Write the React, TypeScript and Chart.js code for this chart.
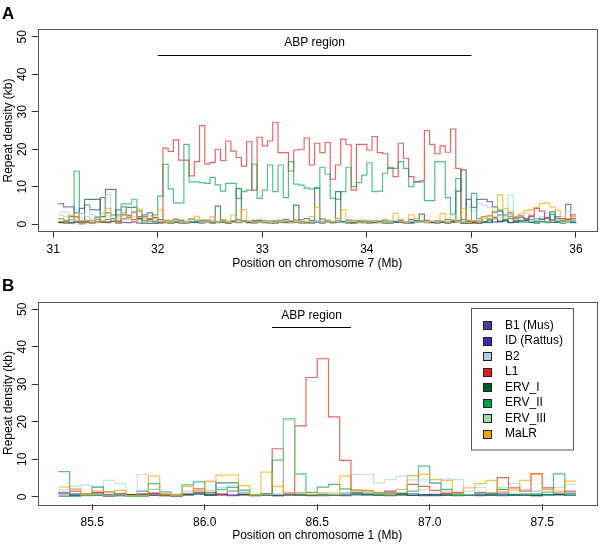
import React, { useEffect, useRef } from 'react';
import { Chart, registerables } from 'chart.js';

Chart.register(...registerables);
Chart.defaults.font.family = '"Liberation Sans", Arial, Helvetica, sans-serif';
Chart.defaults.color = '#000';

const SERIES_NAMES = ['B1 (Mus)', 'ID (Rattus)', 'B2', 'L1', 'ERV_I', 'ERV_II', 'ERV_III', 'MaLR'];
const SERIES_COLORS = ['#4b3b9c', '#3a2aa6', '#b4cce8', '#e41a1c', '#005a24', '#00a050', '#9adcb0', '#f5a500'];
const LINE_ALPHA = 0.68;

const Y_TICKS = [0, 10, 20, 30, 40, 50];
const Y_MIN = -2;
const Y_MAX = 52;
const Y_TITLE = 'Repeat density (kb)';
const ABP_LABEL = 'ABP region';
const ABP_LINE_Y = 45.2;
const ABP_TEXT_Y = 48.3;

// ---------- Panel A: chromosome 7 ----------
const A_START = 31.05;
const A_STEP = 0.05;
const A_COUNT = 100;
const A_X_TICKS = [31, 32, 33, 34, 35, 36];
const A_X_TITLE = 'Position on chromosome 7 (Mb)';
const A_ABP = [32.0, 35.0];

const A_B1 = [
  5.5, 4.6, 4.6, 3.0, 4.2, 5.1, 3.9, 3.8, 7.1, 3.0,
  2.5, 3.8, 4.6, 2.3, 3.2, 2.0, 2.5, 3.0, 1.8, 0.5,
  0.6, 0.8, 1.2, 1.0, 0.7, 1.4, 0.9, 0.6, 1.1, 0.8,
  0.7, 1.0, 0.6, 0.9, 1.2, 0.8, 0.6, 1.0, 0.7, 0.9,
  0.8, 0.6, 1.0, 1.3, 0.7, 0.9, 1.2, 1.5, 1.0, 0.8,
  1.4, 1.0, 0.7, 0.9, 0.6, 1.1, 0.8, 0.7, 1.0, 0.6,
  0.9, 0.7, 1.1, 0.8, 0.6, 1.0, 0.7, 1.2, 0.9, 0.8,
  1.0, 0.7, 0.9, 0.6, 1.2, 0.8, 1.0, 0.7, 6.6, 4.5,
  6.6, 6.6, 6.0, 4.6, 3.5, 2.5, 3.0, 1.8, 2.2, 1.5,
  2.0, 1.5, 1.2, 1.8, 1.0, 2.0, 1.5, 5.3, 1.5, 1.5,
];
const A_ID = [
  0.4, 0.6, 0.3, 0.5, 0.8, 0.4, 0.3, 0.6, 0.5, 0.4,
  0.7, 0.3, 0.5, 0.4, 0.6, 0.3, 0.5, 0.8, 0.4, 0.3,
  0.5, 0.4, 0.6, 0.3, 0.5, 0.7, 0.4, 0.3, 0.6, 0.5,
  0.4, 0.6, 0.3, 0.5, 0.4, 0.7, 0.5, 0.3, 0.6, 0.4,
  0.5, 0.3, 0.6, 0.4, 0.8, 0.5, 0.3, 0.4, 0.6, 0.5,
  0.3, 0.6, 0.4, 0.5, 0.7, 0.3, 0.5, 0.4, 0.6, 0.3,
  0.5, 0.4, 0.7, 0.3, 0.5, 0.6, 0.4, 0.3, 0.5, 0.6,
  0.4, 0.5, 0.3, 0.6, 0.4, 0.5, 0.7, 0.3, 0.8, 0.6,
  0.9, 0.7, 1.2, 0.6, 0.8, 1.0, 0.5, 0.7, 0.6, 0.9,
  0.5, 0.8, 0.6, 0.7, 0.5, 0.6, 0.9, 1.2, 0.6, 0.6,
];
const A_B2 = [
  3.3, 3.3, 2.0, 1.5, 2.8, 5.0, 2.5, 2.0, 3.0, 2.2,
  2.5, 2.0, 3.0, 1.5, 2.0, 1.2, 1.8, 1.5, 1.0, 0.5,
  0.6, 0.9, 0.5, 1.1, 0.7, 0.4, 0.8, 1.0, 0.6, 0.5,
  0.8, 0.6, 1.0, 0.5, 0.7, 0.9, 0.4, 0.6, 0.8, 0.5,
  0.7, 0.5, 0.9, 0.6, 0.4, 0.8, 1.1, 0.6, 0.5, 0.7,
  0.6, 0.9, 0.5, 0.7, 0.4, 0.8, 0.6, 1.0, 0.5, 0.7,
  0.8, 0.5, 0.6, 0.9, 0.7, 0.4, 0.6, 0.8, 0.5, 0.9,
  0.6, 0.7, 0.5, 0.8, 0.6, 1.0, 0.5, 0.7, 4.5, 3.5,
  5.5, 5.0, 4.5, 3.0, 2.5, 2.0, 3.5, 2.5, 2.0, 3.0,
  2.5, 1.5, 2.0, 3.0, 2.5, 1.8, 2.0, 3.5, 2.0, 2.0,
];
const A_L1 = [
  0.6, 0.5, 2.1, 2.1, 0.1, 0.8, 0.5, 1.2, 0.8, 0.6,
  1.5, 0.6, 1.4, 1.8, 1.2, 1.6, 1.0, 1.3, 0.7, 0.5,
  20.3, 19.4, 22.5, 17.1, 17.1, 12.9, 16.7, 26.3, 16.1, 16.5,
  20.0, 17.0, 22.2, 19.5, 17.8, 15.5, 22.0, 9.1, 23.2, 20.9,
  22.2, 27.2, 19.1, 19.1, 14.2, 19.8, 20.0, 23.0, 15.8, 21.6,
  19.1, 21.8, 12.0, 15.8, 22.7, 21.2, 9.1, 21.3, 21.3, 19.8,
  23.4, 19.1, 18.8, 14.9, 12.7, 21.6, 17.6, 12.7, 11.3, 11.6,
  25.0, 21.3, 18.8, 20.9, 19.2, 25.4, 14.9, 1.2, 0.8, 0.5,
  0.6, 2.0, 2.2, 1.8, 2.5, 1.2, 1.5, 1.0, 1.8, 1.2,
  2.2, 4.2, 3.5, 1.5, 1.2, 1.5, 1.0, 1.3, 2.5, 2.5,
];
const A_ERV1 = [
  0.5, 0.3, 0.5, 0.8, 0.5, 6.6, 6.6, 6.6, 2.0, 9.3,
  9.3, 0.8, 2.5, 4.5, 4.5, 1.5, 0.3, 0.2, 0.2, 1.2,
  1.0, 0.3, 0.5, 0.8, 0.3, 0.5, 0.6, 1.0, 0.6, 0.3,
  4.8, 0.5, 0.3, 0.6, 9.5, 0.8, 0.4, 0.6, 1.0, 0.5,
  0.3, 0.8, 0.5, 0.6, 0.4, 5.1, 0.6, 0.4, 0.3, 9.7,
  0.5, 0.8, 0.4, 8.7, 0.6, 0.5, 0.3, 0.8, 0.4, 0.6,
  0.5, 0.8, 0.3, 0.4, 0.6, 0.5, 0.3, 0.5, 0.8, 2.7,
  0.5, 0.4, 0.6, 0.5, 0.3, 0.8, 8.8, 14.5, 0.2, 0.3,
  0.2, 0.5, 0.4, 1.5, 0.6, 0.8, 0.4, 0.5, 1.0, 1.0,
  0.5, 0.3, 0.6, 0.4, 3.3, 0.5, 0.3, 0.6, 0.4, 0.5,
];
const A_ERV2 = [
  1.5, 1.0, 1.2, 14.2, 0.5, 0.8, 1.0, 1.8, 0.6, 1.2,
  0.8, 2.5, 5.4, 5.4, 6.6, 3.5, 2.0, 1.5, 2.5, 7.5,
  16.0, 9.4, 5.7, 5.7, 21.3, 11.3, 11.3, 11.1, 10.9, 12.5,
  10.5, 8.8, 10.9, 10.9, 6.9, 8.7, 9.1, 16.0, 6.9, 9.1,
  15.8, 8.7, 15.8, 7.1, 16.7, 10.7, 10.4, 9.6, 9.4, 9.7,
  15.2, 13.4, 6.9, 6.6, 8.7, 15.2, 10.0, 11.1, 13.1, 16.4,
  8.7, 8.8, 13.6, 15.2, 14.9, 16.7, 14.9, 10.0, 11.3, 11.3,
  6.3, 6.3, 16.7, 16.7, 7.1, 2.7, 12.2, 0.2, 0.3, 8.2,
  1.5, 0.5, 0.8, 3.2, 3.8, 1.0, 2.0, 1.5, 0.8, 0.5,
  1.2, 0.6, 1.5, 0.5, 2.6, 0.8, 0.6, 0.8, 1.0, 1.0,
];
const A_ERV3 = [
  2.4, 2.0, 1.2, 1.0, 3.0, 2.0, 0.8, 1.5, 2.5, 7.8,
  1.0, 1.5, 5.5, 1.2, 6.6, 1.0, 0.5, 0.8, 0.4, 1.0,
  0.8, 0.5, 1.0, 0.6, 0.4, 0.8, 1.2, 0.5, 0.6, 0.8,
  0.5, 0.8, 0.6, 0.4, 1.0, 0.6, 0.8, 0.5, 1.2, 0.6,
  0.4, 0.8, 0.6, 1.0, 0.5, 0.7, 0.4, 0.8, 0.6, 1.0,
  0.5, 0.8, 0.6, 1.5, 0.4, 0.6, 0.8, 0.5, 1.0, 0.6,
  0.8, 0.5, 0.6, 0.4, 1.0, 0.7, 0.5, 0.8, 0.6, 0.5,
  0.4, 0.8, 0.6, 1.0, 0.5, 2.5, 0.8, 0.6, 1.2, 1.0,
  0.8, 1.5, 2.0, 1.5, 2.5, 1.5, 7.8, 2.0, 1.2, 0.6,
  0.8, 1.0, 0.5, 0.6, 0.8, 1.2, 0.5, 0.8, 1.0, 1.0,
];
const A_MALR = [
  1.5, 0.5, 2.4, 1.8, 0.3, 1.0, 0.4, 0.5, 0.8, 4.2,
  1.5, 0.5, 3.0, 2.5, 0.6, 4.0, 1.6, 2.2, 1.5, 3.8,
  0.3, 1.0, 1.5, 0.5, 0.6, 1.5, 2.1, 1.0, 0.5, 2.0,
  0.6, 1.2, 0.3, 2.4, 0.5, 3.9, 0.8, 0.3, 0.5, 1.0,
  0.4, 1.0, 0.6, 0.8, 0.5, 1.2, 0.4, 0.3, 2.0, 4.5,
  0.8, 1.0, 0.6, 1.5, 3.9, 0.6, 1.0, 0.5, 0.4, 1.0,
  0.3, 0.5, 1.0, 0.8, 2.9, 1.2, 0.3, 2.5, 1.5, 1.0,
  0.5, 0.8, 0.6, 2.9, 0.6, 1.2, 0.5, 4.2, 0.4, 1.0,
  0.8, 2.0, 1.5, 3.5, 7.8, 4.2, 2.5, 2.0, 2.8, 3.7,
  3.9, 4.5, 5.5, 5.7, 4.6, 3.7, 1.0, 1.5, 2.0, 2.0,
];

// ---------- Panel B: chromosome 1 ----------
const B_START = 85.35;
const B_STEP = 0.05;
const B_COUNT = 47;
const B_X_TICKS = [85.5, 86.0, 86.5, 87.0, 87.5];
const B_X_TITLE = 'Position on chromosome 1 (Mb)';
const B_ABP = [86.3, 86.65];

const B_B1 = [
  1.2, 0.8, 0.6, 1.0, 0.5, 0.8, 0.5, 1.5, 1.0, 0.6,
  0.4, 0.8, 1.2, 0.6, 0.8, 0.5, 1.0, 0.6, 0.8, 0.5,
  0.6, 0.8, 0.5, 0.4, 0.6, 1.0, 1.2, 0.8, 1.0, 1.5,
  1.0, 0.8, 0.6, 0.5, 0.8, 1.2, 0.6, 0.5, 0.8, 1.0,
  0.6, 0.8, 0.5, 1.2, 0.8, 1.0, 1.0,
];
const B_ID = [
  0.8, 0.5, 0.4, 0.6, 0.3, 0.5, 0.6, 0.8, 0.5, 0.3,
  0.3, 0.5, 0.8, 0.4, 0.5, 0.3, 0.6, 0.4, 0.5, 0.3,
  0.5, 0.6, 0.4, 0.3, 0.5, 0.6, 0.8, 0.5, 0.6, 0.8,
  0.5, 0.4, 0.6, 0.3, 0.5, 0.8, 0.4, 0.3, 0.5, 0.6,
  0.4, 0.5, 0.3, 0.6, 0.5, 0.8, 0.8,
];
const B_B2 = [
  1.9, 2.8, 3.1, 2.6, 4.4, 3.5, 0.3, 6.0, 2.0, 0.5,
  0.8, 1.5, 1.5, 4.0, 2.5, 3.0, 1.5, 0.6, 0.8, 0.5,
  0.6, 0.8, 0.5, 0.4, 0.6, 1.0, 6.0, 6.0, 3.7, 4.6,
  5.5, 5.5, 4.5, 3.5, 4.8, 4.6, 1.5, 2.5, 1.0, 2.0,
  3.5, 2.0, 1.5, 1.2, 2.5, 3.3, 3.3,
];
const B_L1 = [
  1.0, 1.5, 0.8, 1.2, 0.6, 0.8, 0.4, 0.6, 0.9, 0.7,
  0.5, 0.8, 2.1, 1.2, 0.5, 1.5, 0.6, 0.4, 0.8, 12.8,
  1.0, 18.9, 31.8, 36.8, 21.3, 9.7, 1.8, 1.6, 1.0, 1.2,
  0.8, 3.3, 2.8, 1.7, 1.0, 0.8, 0.6, 1.2, 1.0, 5.1,
  2.4, 1.5, 6.2, 2.4, 1.0, 1.5, 1.5,
];
const B_ERV1 = [
  0.2, 0.3, 0.5, 0.4, 0.2, 0.3, 0.5, 0.2, 0.4, 0.3,
  0.2, 0.5, 0.8, 0.5, 3.7, 3.7, 0.5, 0.3, 0.4, 0.3,
  0.5, 0.4, 0.3, 0.5, 0.4, 0.3, 0.5, 0.6, 0.4, 0.3,
  0.5, 0.4, 0.3, 0.6, 0.4, 0.3, 0.5, 0.8, 0.4, 0.3,
  0.5, 0.4, 0.3, 0.5, 0.6, 0.4, 0.4,
];
const B_ERV2 = [
  6.7, 0.2, 0.3, 2.6, 1.3, 0.3, 0.1, 0.5, 3.5, 1.3,
  0.3, 3.2, 4.0, 0.8, 2.0, 2.5, 1.8, 0.3, 0.5, 9.8,
  20.8, 6.1, 1.2, 2.6, 3.3, 2.1, 0.8, 0.6, 0.5, 0.8,
  0.8, 1.5, 8.2, 3.7, 2.0, 0.5, 0.5, 1.0, 0.4, 2.0,
  0.5, 0.6, 0.8, 0.5, 6.1, 0.6, 0.6,
];
const B_ERV3 = [
  1.0, 2.0, 0.5, 0.6, 0.4, 0.5, 0.3, 1.5, 2.0, 1.2,
  0.5, 1.0, 1.5, 1.7, 1.8, 1.5, 1.0, 0.5, 0.6, 0.8,
  20.5, 5.9, 0.8, 1.0, 0.6, 0.8, 1.5, 1.2, 0.8, 1.0,
  1.2, 4.5, 2.0, 1.0, 1.5, 0.8, 0.6, 1.0, 1.2, 2.5,
  1.0, 0.8, 1.5, 1.8, 1.0, 0.8, 0.8,
];
const B_MALR = [
  2.6, 2.1, 0.6, 1.5, 1.3, 1.7, 0.3, 0.3, 5.5, 0.5,
  0.4, 2.7, 1.6, 4.2, 5.8, 5.8, 3.0, 0.6, 6.6, 2.8,
  1.0, 1.2, 0.6, 1.0, 1.0, 5.5, 1.8, 1.5, 1.2, 0.8,
  2.0, 5.7, 6.0, 4.6, 4.4, 1.0, 2.4, 3.5, 4.4, 1.5,
  1.8, 4.4, 6.0, 2.0, 1.5, 4.2, 4.2,
];

function binStarts(start: number, step: number, count: number): number[] {
  const out: number[] = [];
  for (let i = 0; i < count; i++) out.push(Math.round((start + i * step) * 1000) / 1000);
  return out;
}

function withAlpha(hex: string, a: number): string {
  const r = parseInt(hex.slice(1, 3), 16);
  const g = parseInt(hex.slice(3, 5), 16);
  const b = parseInt(hex.slice(5, 7), 16);
  return `rgba(${r},${g},${b},${a})`;
}

type PanelSpec = {
  letter: string;
  xs: number[];
  series: number[][];
  xMin: number;
  xMax: number;
  xTicks: number[];
  digits: number;
  xTitle: string;
  abp: number[];
  legend: boolean;
  padTop: number;
  xAxisHeight: number;
};

const PANEL_A: PanelSpec = {
  letter: 'A',
  xs: binStarts(A_START, A_STEP, A_COUNT),
  series: [A_B1, A_ID, A_B2, A_L1, A_ERV1, A_ERV2, A_ERV3, A_MALR],
  xMin: 30.852,
  xMax: 36.198,
  xTicks: A_X_TICKS,
  digits: 0,
  xTitle: A_X_TITLE,
  abp: A_ABP,
  legend: false,
  padTop: 29.3,
  xAxisHeight: 40.3,
};

const PANEL_B: PanelSpec = {
  letter: 'B',
  xs: binStarts(B_START, B_STEP, B_COUNT),
  series: [B_B1, B_ID, B_B2, B_L1, B_ERV1, B_ERV2, B_ERV3, B_MALR],
  xMin: 85.258,
  xMax: 87.742,
  xTicks: B_X_TICKS,
  digits: 1,
  xTitle: B_X_TITLE,
  abp: B_ABP,
  legend: true,
  padTop: 29.7,
  xAxisHeight: 39.7,
};

const FONT = '"Liberation Sans", Arial, Helvetica, sans-serif';

function Panel({ spec, top }: { spec: PanelSpec; top: number }) {
  const ref = useRef<HTMLCanvasElement | null>(null);
  useEffect(() => {
    const canvas = ref.current;
    if (!canvas) return;
    const datasets = SERIES_NAMES.map((name, k) => ({
      label: name,
      data: spec.xs.map((x, i) => ({ x, y: spec.series[k][i] })),
      borderColor: withAlpha(SERIES_COLORS[k], LINE_ALPHA),
      backgroundColor: SERIES_COLORS[k],
      borderWidth: 1.2,
      pointRadius: 0,
      stepped: 'before' as const,
      fill: false,
      tension: 0,
      order: SERIES_NAMES.length - k,
    }));

    const deco = {
      id: 'deco',
      afterDraw(chart: any) {
        const ctx = chart.ctx as CanvasRenderingContext2D;
        const a = chart.chartArea;
        const xs = chart.scales.x;
        const ys = chart.scales.y;
        ctx.save();
        // frame
        ctx.strokeStyle = '#555';
        ctx.lineWidth = 1;
        ctx.strokeRect(Math.round(a.left) + 0.5, Math.round(a.top) + 0.5, Math.round(a.right - a.left), Math.round(a.bottom - a.top));
        // rotated y tick labels (R style, parallel to the axis)
        ctx.fillStyle = '#000';
        ctx.font = `12px ${FONT}`;
        ctx.textAlign = 'center';
        ctx.textBaseline = 'middle';
        ys.ticks.forEach((t: any) => {
          const py = ys.getPixelForValue(t.value);
          ctx.save();
          ctx.translate(a.left - 15.5, py);
          ctx.rotate(-Math.PI / 2);
          ctx.fillText(String(t.value), 0, 0);
          ctx.restore();
        });
        // panel letter
        ctx.font = `bold 17px ${FONT}`;
        ctx.textAlign = 'left';
        ctx.textBaseline = 'alphabetic';
        ctx.fillText(spec.letter, 2, 18.5);
        // ABP region marker
        const x1 = xs.getPixelForValue(spec.abp[0]);
        const x2 = xs.getPixelForValue(spec.abp[1]);
        const yl = Math.round(ys.getPixelForValue(ABP_LINE_Y)) + 0.5;
        ctx.strokeStyle = '#000';
        ctx.beginPath();
        ctx.moveTo(x1, yl);
        ctx.lineTo(x2, yl);
        ctx.stroke();
        ctx.font = `12px ${FONT}`;
        ctx.textAlign = 'center';
        ctx.textBaseline = 'middle';
        ctx.fillText(ABP_LABEL, (x1 + x2) / 2, ys.getPixelForValue(ABP_TEXT_Y));
        // legend
        if (spec.legend) {
          const lx = 471.5;
          const ly = 36.5;
          const lw = 102;
          const lh = 141.5;
          ctx.fillStyle = '#fff';
          ctx.fillRect(lx, ly, lw, lh);
          ctx.strokeStyle = '#555';
          ctx.strokeRect(lx, ly, lw, lh);
          ctx.font = `12px ${FONT}`;
          ctx.textAlign = 'left';
          ctx.textBaseline = 'middle';
          chart.data.datasets.forEach((ds: any, k: number) => {
            const cy = 53 + 15.5 * k;
            ctx.fillStyle = ds.backgroundColor;
            ctx.fillRect(483.5, Math.round(cy - 4) + 0.5, 8, 8);
            ctx.strokeStyle = '#222';
            ctx.strokeRect(483.5, Math.round(cy - 4) + 0.5, 8, 8);
            ctx.fillStyle = '#000';
            ctx.fillText(ds.label, 505, cy + 0.5);
          });
        }
        ctx.restore();
      },
    };

    const gridOpts = {
      display: true,
      drawOnChartArea: false,
      drawTicks: true,
      tickLength: 6,
      tickColor: '#333',
      color: '#333',
      lineWidth: 1,
    };

    const chart = new Chart(canvas, {
      type: 'line',
      data: { datasets: datasets as any },
      options: {
        responsive: false,
        animation: false,
        devicePixelRatio: 1,
        layout: { padding: { top: spec.padTop, right: 3.3, left: 0, bottom: 0 } },
        plugins: { legend: { display: false }, tooltip: { enabled: false } },
        scales: {
          x: {
            type: 'linear',
            min: spec.xMin,
            max: spec.xMax,
            afterBuildTicks: (s: any) => {
              s.ticks = spec.xTicks.map((v) => ({ value: v }));
            },
            afterFit: (s: any) => {
              s.height = spec.xAxisHeight;
            },
            ticks: {
              autoSkip: false,
              maxRotation: 0,
              minRotation: 0,
              padding: 5,
              color: '#000',
              font: { size: 12 },
              callback: (v: any) => Number(v).toFixed(spec.digits),
            },
            grid: gridOpts as any,
            border: { display: false },
            title: {
              display: true,
              text: spec.xTitle,
              color: '#000',
              font: { size: 12 },
              padding: { top: 0, bottom: 1.5 },
            },
          },
          y: {
            type: 'linear',
            min: Y_MIN,
            max: Y_MAX,
            afterBuildTicks: (s: any) => {
              s.ticks = Y_TICKS.map((v) => ({ value: v }));
            },
            afterFit: (s: any) => {
              s.width = 37.7;
            },
            ticks: {
              display: false,
              autoSkip: false,
            },
            grid: gridOpts as any,
            border: { display: false },
            title: {
              display: true,
              text: Y_TITLE,
              color: '#000',
              font: { size: 12 },
              padding: { top: 1.5, bottom: 0 },
            },
          },
        },
      } as any,
      plugins: [deco],
    });
    return () => chart.destroy();
  }, [spec]);

  return (
    <div style={{ position: 'absolute', left: 0, top, width: 600, height: 272 }}>
      <canvas ref={ref} width={600} height={272} style={{ display: 'block', width: 600, height: 272 }} />
    </div>
  );
}

export default function App() {
  return (
    <div style={{ position: 'absolute', left: 0, top: 0, width: 600, height: 544, background: '#fff' }}>
      <Panel spec={PANEL_A} top={0} />
      <Panel spec={PANEL_B} top={272} />
    </div>
  );
}
